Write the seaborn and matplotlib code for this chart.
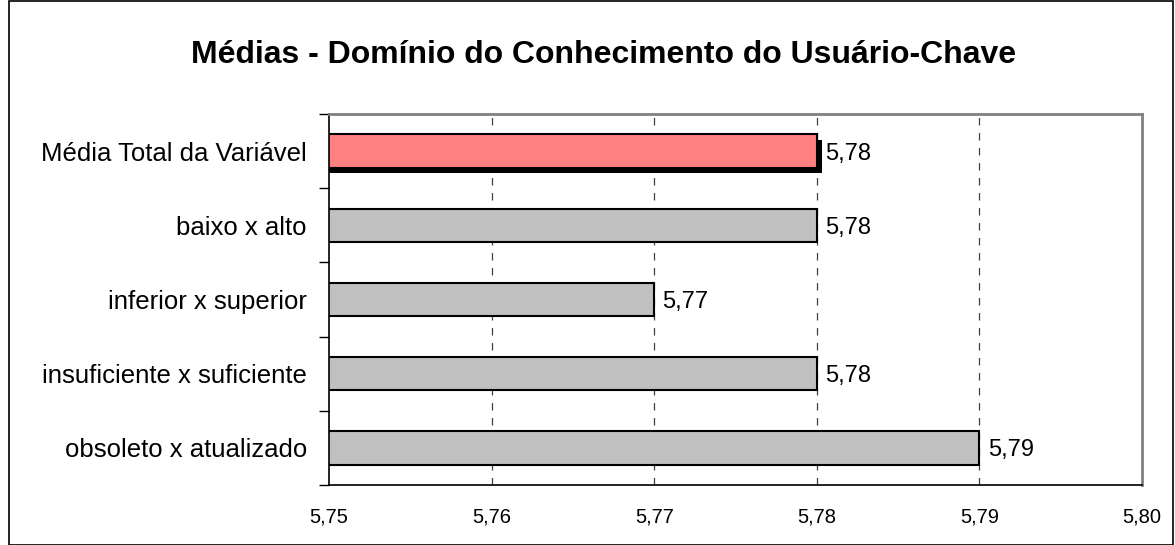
import matplotlib
matplotlib.use('Agg')
import matplotlib.pyplot as plt
import matplotlib.patheffects as pe
from matplotlib.patches import Rectangle
import seaborn as sns
import pandas as pd
import numpy as np

# chart data
categorias = ['Média Total da Variável', 'baixo x alto', 'inferior x superior',
              'insuficiente x suficiente', 'obsoleto x atualizado']
medias = [5.78, 5.78, 5.77, 5.78, 5.79]
rotulos = ['5,78', '5,78', '5,77', '5,78', '5,79']
cores = ['#FF8080', '#C0C0C0', '#C0C0C0', '#C0C0C0', '#C0C0C0']
xticks = [5.75, 5.76, 5.77, 5.78, 5.79, 5.80]
xlabels = ['5,75', '5,76', '5,77', '5,78', '5,79', '5,80']

df = pd.DataFrame({'cat': categorias, 'media': medias})

sns.set_style('white')
plt.rcParams['font.family'] = ['Liberation Sans', 'DejaVu Sans']
plt.rcParams['text.color'] = 'black'
plt.rcParams['xtick.color'] = 'black'
plt.rcParams['ytick.color'] = 'black'

fig = plt.figure(figsize=(11.75, 5.45), dpi=100)
ax = fig.add_axes([0.280, 0.110, 0.692, 0.681])

sns.barplot(data=df, x='media', y='cat', hue='cat', palette=cores, legend=False,
            orient='h', width=0.45, saturation=1, edgecolor='black', linewidth=1.5, ax=ax)

# Excel-like shadow on the first bar
ax.patches[0].set_path_effects([pe.SimplePatchShadow(offset=(4, -4), shadow_rgbFace='black', alpha=1),
                                pe.Normal()])

ax.set_xlim(5.75, 5.80)
ax.set_ylim(len(categorias) - 0.5, -0.5)
ax.set_xticks(xticks)
ax.set_xticklabels(xlabels, fontsize=14.5)
ax.tick_params(axis='x', length=0, pad=16)

ax.set_yticks(range(len(categorias)))
ax.set_yticklabels(categorias, fontsize=18.5)
ax.set_yticks(np.arange(-0.5, len(categorias)), minor=True)
ax.tick_params(axis='y', which='major', length=0, pad=16)
ax.tick_params(axis='y', which='minor', length=7, width=1, color='black', left=True)
ax.set_xlabel('')
ax.set_ylabel('')

for x in xticks[1:-1]:
    ax.axvline(x, color='#404040', linestyle=(0, (6, 6)), linewidth=0.9, zorder=0)

for i, (v, t) in enumerate(zip(medias, rotulos)):
    ax.text(v + 0.0005, i, t, va='center_baseline', ha='left', fontsize=17)

for s in ['top', 'right']:
    ax.spines[s].set_color('#808080')
    ax.spines[s].set_linewidth(2)
for s in ['left', 'bottom']:
    ax.spines[s].set_color('black')
    ax.spines[s].set_linewidth(1.2)

fig.text(0.514, 0.884, 'Médias - Domínio do Conhecimento do Usuário-Chave',
         ha='center', va='baseline', fontsize=23, fontweight='bold')

# outer chart border
fig.patches.append(Rectangle((0.008, 0.0), 0.99, 0.998, transform=fig.transFigure,
                             fill=False, edgecolor='black', linewidth=1.2))

fig.savefig('out.png', dpi=100)
